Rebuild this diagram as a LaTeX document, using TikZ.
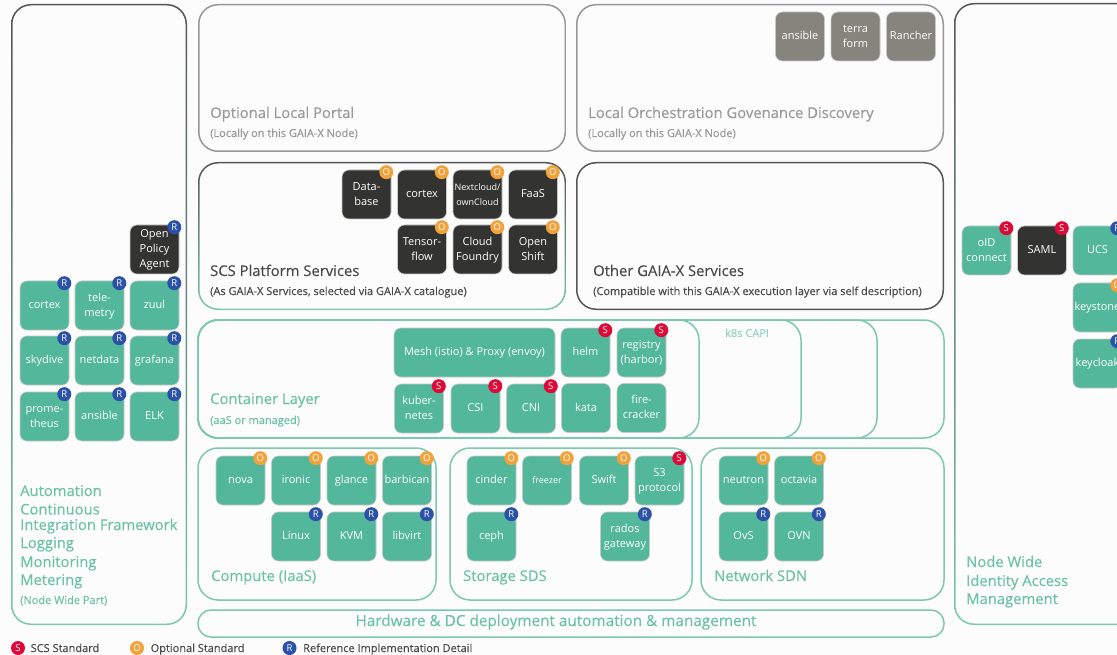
\documentclass[tikz,border=0pt]{standalone}
\usepackage{fontspec}
\setmainfont{Open Sans}
\definecolor{bgc}{HTML}{FCFCFC}
\definecolor{scsgreen}{HTML}{52B79B}
\definecolor{linegreen}{HTML}{7CC8B2}
\definecolor{titlegreen}{HTML}{6CC2A9}
\definecolor{dark}{HTML}{333331}
\definecolor{midgray}{HTML}{85857D}
\definecolor{stroke}{HTML}{555555}
\definecolor{soft}{HTML}{969696}
\definecolor{softtext}{HTML}{9A9A9A}
\definecolor{darktext}{HTML}{4A4A4A}
\definecolor{badgeS}{HTML}{DC0A38}
\definecolor{badgeO}{HTML}{F2A23A}
\definecolor{badgeR}{HTML}{2B52A8}
\tikzset{
  x=1pt,y=-1pt,
  tilebox/.style={rectangle,rounded corners=7pt,minimum width=49pt,minimum height=49pt,inner sep=0pt,
    draw=black!22,line width=.6pt,text=white,align=center,font=\fontsize{11}{15}\selectfont},
  gtile/.style={tilebox,fill=scsgreen},
  dtile/.style={tilebox,fill=dark},
  ytile/.style={tilebox,fill=midgray},
  badge/.style={circle,minimum size=14pt,inner sep=0pt,text=white,font=\fontsize{9.5}{10}\selectfont},
  bS/.style={badge,fill=badgeS},
  bO/.style={badge,fill=badgeO},
  bR/.style={badge,fill=badgeR},
  ptitle/.style={anchor=base west,inner sep=0pt,font=\fontsize{14.8}{16}\selectfont\addfontfeature{FakeBold=.3}},
  psub/.style={anchor=base west,inner sep=0pt,font=\fontsize{11}{12}\selectfont\addfontfeature{FakeBold=.3}},
  plain/.style={rounded corners=20pt,line width=1.5pt,draw=linegreen},
}
% even line box, whatever the glyphs
\newcommand\lbl[1]{\rule{0pt}{10.5pt}#1\rule[-4pt]{0pt}{0pt}}
% name, x, y, style, text
\newcommand\tile[5]{\node[#4] (#1) at (#2+24.5,#3+24.5) {\lbl{#5}};}
% tile name, badge letter
\newcommand\bdg[2]{\node[b#2] (#1-b) at ([xshift=-5pt,yshift=-2.5pt]#1.north east) {#2};}
% x1,y1,x2,y2,shade options
\newcommand\ring[5]{\shade[even odd rule,#5]
  [rounded corners=20pt] (#1,#2) rectangle (#3,#4)
  [rounded corners=18.5pt] (#1+1.5,#2+1.5) rectangle (#3-1.5,#4-1.5);}
\begin{document}
\begin{tikzpicture}
\useasboundingbox (0,0) rectangle (1117,655);
\clip (0,0) rectangle (1117,655);
\fill[bgc] (0,0) rectangle (1117,655);
% panels
\ring{11}{4}{187}{625}{top color=stroke,middle color=stroke!75!linegreen,bottom color=linegreen}
\ring{954}{3}{1170}{625}{top color=stroke,middle color=stroke!75!linegreen,bottom color=linegreen}
\ring{198}{4}{566}{152}{top color=soft,bottom color=soft}
\ring{576}{4}{944}{152}{top color=soft,bottom color=soft}
\ring{198}{162}{566}{310}{top color=stroke,middle color=stroke,bottom color=linegreen}
\ring{576}{162}{944}{310}{top color=stroke,bottom color=stroke}
\draw[plain] (198,320) rectangle (944,438);
\draw[plain] (198,320) rectangle (877,438);
\draw[plain] (198,320) rectangle (801,438);
\draw[plain] (198,320) rectangle (699,438);
\draw[plain] (198,448) rectangle (436,600);
\draw[plain] (450,448) rectangle (692,600);
\draw[plain] (701,448) rectangle (944,600);
\draw[plain,rounded corners=13pt] (198,610) rectangle (944,637);
% left panel tiles
\tile{opa}{130}{225}{dtile}{Open\\Policy\\Agent}\bdg{opa}{R}
\tile{lcortex}{20}{281}{gtile}{cortex}\bdg{lcortex}{R}
\tile{telemetry}{75}{281}{gtile}{tele-\\metry}\bdg{telemetry}{R}
\tile{zuul}{130}{281}{gtile}{zuul}\bdg{zuul}{R}
\tile{skydive}{20}{336}{gtile}{skydive}\bdg{skydive}{R}
\tile{netdata}{75}{336}{gtile}{netdata}\bdg{netdata}{R}
\tile{grafana}{130}{336}{gtile}{grafana}\bdg{grafana}{R}
\tile{prometheus}{20}{392}{gtile}{prome-\\theus}\bdg{prometheus}{R}
\tile{lansible}{75}{392}{gtile}{ansible}\bdg{lansible}{R}
\tile{elk}{130}{392}{gtile}{ELK}\bdg{elk}{R}
% orchestration
\tile{ansible}{775.5}{12}{ytile}{ansible}
\tile{terraform}{831}{12}{ytile}{terra\\form}
\tile{rancher}{886.5}{12}{ytile}{Rancher}
% platform
\tile{database}{342}{170}{dtile}{Data-\\base}\bdg{database}{O}
\tile{pcortex}{397.5}{170}{dtile}{cortex}\bdg{pcortex}{O}
\tile{nextcloud}{453}{170}{dtile}{{\fontsize{9}{15}\selectfont Nextcloud/}\\{\fontsize{9}{15}\selectfont ownCloud}}\bdg{nextcloud}{O}
\tile{faas}{508.5}{170}{dtile}{FaaS}\bdg{faas}{O}
\tile{tensorflow}{397.5}{225}{dtile}{Tensor-\\flow}\bdg{tensorflow}{O}
\tile{foundry}{453}{225}{dtile}{Cloud\\Foundry}\bdg{foundry}{O}
\tile{openshift}{508.5}{225}{dtile}{Open\\Shift}\bdg{openshift}{O}
% container layer
\node[gtile,minimum width=161pt] (mesh) at (474.5,352.5) {\lbl{Mesh (istio) \& Proxy (envoy)}};
\tile{helm}{561}{328}{gtile}{helm}\bdg{helm}{S}
\tile{registry}{617}{328}{gtile}{registry\\(harbor)}\bdg{registry}{S}
\tile{kubernetes}{394.5}{384}{gtile}{kuber-\\netes}\bdg{kubernetes}{S}
\tile{csi}{451}{384}{gtile}{CSI}\bdg{csi}{S}
\tile{cni}{506.5}{384}{gtile}{CNI}\bdg{cni}{S}
\tile{kata}{561.5}{383.5}{gtile}{kata}
\tile{firecracker}{617}{383.5}{gtile}{fire-\\cracker}
% compute
\tile{nova}{216}{456}{gtile}{nova}\bdg{nova}{O}
\tile{ironic}{271.5}{456}{gtile}{ironic}\bdg{ironic}{O}
\tile{glance}{327}{456}{gtile}{glance}\bdg{glance}{O}
\tile{barbican}{382.5}{456}{gtile}{barbican}\bdg{barbican}{O}
\tile{linux}{271.5}{512}{gtile}{Linux}\bdg{linux}{R}
\tile{kvm}{327}{512}{gtile}{KVM}\bdg{kvm}{R}
\tile{libvirt}{382.5}{512}{gtile}{libvirt}\bdg{libvirt}{R}
% storage
\tile{cinder}{467}{456}{gtile}{cinder}\bdg{cinder}{O}
\tile{freezer}{522.5}{456}{gtile}{{\fontsize{9}{15}\selectfont freezer}}\bdg{freezer}{O}
\tile{swift}{579.5}{456}{gtile}{Swift}\bdg{swift}{O}
\tile{s3}{635}{456}{gtile}{S3\\protocol}\bdg{s3}{S}
\tile{ceph}{467}{512}{gtile}{ceph}\bdg{ceph}{R}
\tile{rados}{600.5}{512}{gtile}{rados\\gateway}\bdg{rados}{R}
% network
\tile{neutron}{719}{456}{gtile}{neutron}\bdg{neutron}{O}
\tile{octavia}{774.5}{456}{gtile}{octavia}\bdg{octavia}{O}
\tile{ovs}{719}{512}{gtile}{OvS}\bdg{ovs}{R}
\tile{ovn}{774.5}{512}{gtile}{OVN}\bdg{ovn}{R}
% identity
\tile{oid}{962}{226}{gtile}{oID\\connect}\bdg{oid}{S}
\tile{saml}{1017.5}{226}{dtile}{SAML}\bdg{saml}{S}
\tile{ucs}{1073}{226}{gtile}{UCS}\bdg{ucs}{R}
\tile{keystone}{1073}{283}{gtile}{keystone}\bdg{keystone}{O}
\tile{keycloak}{1073}{339}{gtile}{keycloak}\bdg{keycloak}{R}
% labels
\node[ptitle,text=softtext] (t1) at (210,118) {Optional Local Portal};
\node[psub,text=softtext] (s1) at (210,137) {(Locally on this GAIA-X Node)};
\node[ptitle,text=softtext] (t2) at (588,118) {Local Orchestration Govenance Discovery};
\node[psub,text=softtext] (s2) at (588,137) {(Locally on this GAIA-X Node)};
\node[ptitle,text=darktext] (t3) at (210,276) {SCS Platform Services};
\node[psub,text=darktext] (s3) at (210,295) {(As GAIA-X Services, selected via GAIA-X catalogue)};
\node[ptitle,text=darktext] (t4) at (593,276) {Other GAIA-X Services};
\node[psub,text=darktext] (s4) at (593,295) {(Compatible with this GAIA-X execution layer via self description)};
\node[ptitle,text=titlegreen] (t5) at (210,404) {Container Layer};
\node[psub,text=titlegreen] (s5) at (210,424) {(aaS or managed)};
\node[psub,text=titlegreen!70] (capi) at (725,337) {k8s CAPI};
\node[ptitle,text=titlegreen] (t6) at (211,581) {Compute (IaaS)};
\node[ptitle,text=titlegreen] (t7) at (463,581) {Storage SDS};
\node[ptitle,text=titlegreen] (t8) at (714,581) {Network SDN};
\node[ptitle,text=titlegreen,anchor=base,font=\fontsize{15.3}{16}\selectfont\addfontfeature{FakeBold=.3}] (hw) at (556,626) {Hardware \& DC deployment automation \& management};
\node[ptitle,text=titlegreen] (a1) at (20,496) {Automation};
\node[ptitle,text=titlegreen] (a2) at (20,514.5) {Continuous};
\node[ptitle,text=titlegreen] (a3) at (20,530) {Integration Framework};
\node[ptitle,text=titlegreen] (a4) at (20,548) {Logging};
\node[ptitle,text=titlegreen] (a5) at (20,567) {Monitoring};
\node[ptitle,text=titlegreen] (a6) at (20,585) {Metering};
\node[psub,text=titlegreen] (a7) at (20,604) {(Node Wide Part)};
\node[ptitle,text=titlegreen] (i1) at (966,567) {Node Wide};
\node[ptitle,text=titlegreen] (i2) at (966,586) {Identity Access};
\node[ptitle,text=titlegreen] (i3) at (966,604) {Management};
% legend
\node[bS] (lS) at (18,648) {S};
\node[psub,text=darktext] (lSt) at (30.5,652) {SCS Standard};
\node[bO] (lO) at (137,648) {O};
\node[psub,text=darktext] (lOt) at (150.5,652) {Optional Standard};
\node[bR] (lR) at (289.5,648) {R};
\node[psub,text=darktext] (lRt) at (303,652) {Reference Implementation Detail};
\end{tikzpicture}
\end{document}
